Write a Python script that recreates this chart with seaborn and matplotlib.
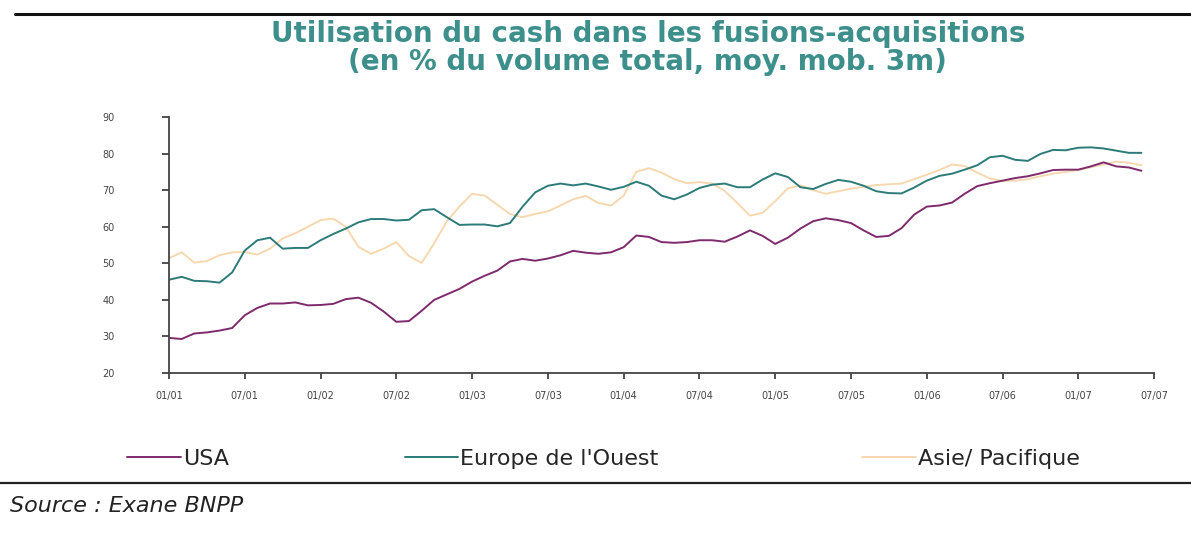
import numpy as np
import pandas as pd
import seaborn as sns
import matplotlib.pyplot as plt
from matplotlib.lines import Line2D

sns.set_theme(style="white")
plt.rcParams['font.family'] = ['DejaVu Sans']

# monthly values, Jan 2001 -> Jun 2007
months = list(range(78))

usa = [29.6, 29.3, 30.8, 31.1, 31.6, 32.3, 35.8, 37.8, 39.0, 39.0,
       39.3, 38.5, 38.6, 38.9, 40.2, 40.6, 39.2, 36.8, 34.0, 34.2,
       37.0, 40.0, 41.5, 43.0, 45.0, 46.6, 48.0, 50.5, 51.2, 50.7,
       51.3, 52.2, 53.4, 52.9, 52.6, 53.0, 54.4, 57.6, 57.2, 55.8,
       55.6, 55.8, 56.3, 56.3, 55.9, 57.3, 59.0, 57.5, 55.3, 57.0,
       59.5, 61.5, 62.3, 61.8, 61.0, 59.0, 57.2, 57.5, 59.6, 63.3,
       65.5, 65.8, 66.6, 69.0, 71.1, 71.9, 72.6, 73.3, 73.8, 74.6,
       75.5, 75.6, 75.6, 76.5, 77.6, 76.5, 76.2, 75.3]

europe = [45.5, 46.3, 45.2, 45.1, 44.7, 47.5, 53.5, 56.3, 57.0, 54.0,
          54.2, 54.2, 56.3, 58.0, 59.5, 61.2, 62.1, 62.1, 61.7, 61.9,
          64.5, 64.8, 62.6, 60.5, 60.6, 60.6, 60.1, 61.0, 65.5, 69.4,
          71.2, 71.8, 71.3, 71.8, 71.0, 70.1, 70.9, 72.3, 71.2, 68.5,
          67.5, 68.8, 70.6, 71.5, 71.8, 70.8, 70.8, 72.9, 74.6, 73.6,
          70.8, 70.3, 71.7, 72.8, 72.3, 71.2, 69.7, 69.2, 69.1, 70.7,
          72.6, 73.9, 74.5, 75.6, 76.8, 79.0, 79.4, 78.3, 78.0, 79.9,
          81.0, 80.9, 81.6, 81.7, 81.4, 80.8, 80.2, 80.2]

asie = [51.4, 53.0, 50.2, 50.6, 52.2, 53.0, 53.1, 52.4, 54.0, 56.8,
        58.2, 60.0, 61.8, 62.2, 60.0, 54.5, 52.6, 54.0, 55.8, 52.0,
        50.1, 55.5, 61.5, 65.5, 69.0, 68.5, 66.0, 63.5, 62.6, 63.5,
        64.2, 65.8, 67.5, 68.4, 66.5, 65.8, 68.5, 75.0, 76.0, 74.8,
        73.0, 71.9, 72.2, 71.8, 69.8, 66.5, 63.0, 63.8, 67.0, 70.5,
        71.3, 70.0, 69.0, 69.7, 70.4, 70.9, 71.4, 71.6, 71.8, 73.0,
        74.2, 75.5, 77.0, 76.6, 74.8, 73.2, 72.5, 72.6, 73.0, 73.8,
        74.5, 75.0, 75.5, 76.3, 77.0, 77.8, 77.5, 76.8]

tick_pos = list(range(0, 79, 6))
tick_labels = ["01/01", "07/01", "01/02", "07/02", "01/03", "07/03", "01/04",
               "07/04", "01/05", "07/05", "01/06", "07/06", "01/07", "07/07"]
y_ticks = [20, 30, 40, 50, 60, 70, 80, 90]

names = ["USA", "Europe de l'Ouest", "Asie/ Pacifique"]
colors = ["#7e2a6c", "#2b7b78", "#f6d8b0"]

df = pd.concat([
    pd.DataFrame({"mois": months, "valeur": usa, "zone": names[0]}),
    pd.DataFrame({"mois": months, "valeur": europe, "zone": names[1]}),
    pd.DataFrame({"mois": months, "valeur": asie, "zone": names[2]}),
])

fig = plt.figure(figsize=(11.91, 5.35), dpi=100)
ax = fig.add_axes([0.1419, 0.3028, 0.8271, 0.4785])

# draw Asia first so the darker lines sit on top
sns.lineplot(data=df, x="mois", y="valeur", hue="zone",
             hue_order=[names[2], names[0], names[1]],
             palette={names[0]: colors[0], names[1]: colors[1], names[2]: colors[2]},
             linewidth=1.4, legend=False, ax=ax)

ax.set_xlim(0, 78)
ax.set_ylim(20, 90)
ax.set_xticks(tick_pos)
ax.set_xticklabels(tick_labels, fontsize=7, color="#444444")
ax.set_yticks(y_ticks)
ax.set_yticklabels([str(v) for v in y_ticks], fontsize=7, color="#444444")
ax.set_xlabel("")
ax.set_ylabel("")
for s in ["top", "right"]:
    ax.spines[s].set_visible(False)
for s in ["left", "bottom"]:
    ax.spines[s].set_color("#444444")
    ax.spines[s].set_linewidth(1.3)
ax.tick_params(axis="y", direction="out", length=5, width=1.2, color="#333333",
               left=True, pad=34)
ax.tick_params(axis="x", direction="out", length=4, width=1.2, color="#333333",
               bottom=True, pad=9)
ax.grid(False)

fig.text(0.544, 0.936, "Utilisation du cash dans les fusions-acquisitions",
         ha="center", va="center", fontsize=20, fontweight="bold", color="#3d8f8b")
fig.text(0.544, 0.884, "(en % du volume total, moy. mob. 3m)",
         ha="center", va="center", fontsize=20, fontweight="bold", color="#3d8f8b")

# separate legend entries, as spread out in the original
leg_x = [0.107, 0.340, 0.724]
for name, col, lx in zip(names, colors, leg_x):
    h = Line2D([0], [0], color=col, lw=1.4)
    fig.legend([h], [name], loc="center left", bbox_to_anchor=(lx, 0.142),
               frameon=False, fontsize=16, handlelength=2.4, handletextpad=0.1,
               borderaxespad=0, borderpad=0)

fig.add_artist(Line2D([0.013, 1.0], [0.974, 0.974], color="#111111", lw=2.2,
                      transform=fig.transFigure))
fig.add_artist(Line2D([0.0, 1.0], [0.097, 0.097], color="#222222", lw=1.6,
                      transform=fig.transFigure))
fig.text(0.008, 0.055, "Source : Exane BNPP", ha="left", va="center",
         fontsize=16, fontstyle="italic", color="#222222")

fig.savefig("out.png", dpi=100)
